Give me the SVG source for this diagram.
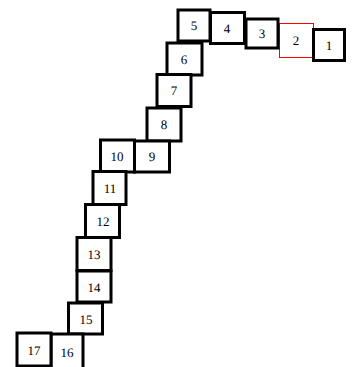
<svg xmlns="http://www.w3.org/2000/svg" width="352" height="367" viewBox="0 0 352 367">
<style>
.b{fill:#fff;stroke:#000;stroke-width:3}
.r{fill:#fff;stroke:#f00;stroke-width:1}
text{font-family:"Liberation Serif","Times New Roman",serif;font-size:13px;text-anchor:middle;dominant-baseline:central;fill:#000;text-rendering:geometricPrecision}
</style>
<rect width="352" height="367" fill="#fff"/>
<g id="connectors"></g>
<g id="n2"><rect class="r" x="279.5" y="23.5" width="34" height="34"/><text x="296" y="40">2</text></g>
<g id="n1"><rect class="b" x="313.5" y="29.5" width="31" height="31"/><text x="329" y="45">1</text></g>
<g id="n3"><rect class="b" x="246" y="19" width="32" height="29"/><text x="262" y="33">3</text></g>
<g id="n4"><rect class="b" x="210.5" y="12.5" width="34" height="31"/><text x="227" y="28">4</text></g>
<g id="n6"><rect class="b" x="167" y="43" width="35" height="32"/><text x="184" y="59">6</text></g>
<g id="n5"><rect class="b" x="178" y="10" width="32" height="31"/><text x="194" y="25">5</text></g>
<g id="n7"><rect class="b" x="157" y="74.5" width="34" height="32"/><text x="174" y="90">7</text></g>
<g id="n8"><rect class="b" x="147" y="108" width="34" height="33"/><text x="164" y="124">8</text></g>
<g id="n10"><rect class="b" x="100.5" y="140" width="34" height="32"/><text x="117" y="156">10</text></g>
<g id="n9"><rect class="b" x="134.5" y="141" width="35" height="31"/><text x="152" y="156">9</text></g>
<g id="n11"><rect class="b" x="93" y="171.5" width="33" height="33"/><text x="110" y="188">11</text></g>
<g id="n12"><rect class="b" x="85.5" y="204.5" width="34" height="33"/><text x="103" y="221">12</text></g>
<g id="n13"><rect class="b" x="77" y="237.5" width="34" height="33"/><text x="94" y="254">13</text></g>
<g id="n14"><rect class="b" x="77" y="271" width="34" height="31"/><text x="94" y="287">14</text></g>
<g id="n15"><rect class="b" x="68.5" y="303" width="34" height="31"/><text x="86" y="319">15</text></g>
<g id="n16"><rect class="b" x="51" y="334" width="32" height="35"/><text x="67" y="352">16</text></g>
<g id="n17"><rect class="b" x="17" y="333" width="34" height="33"/><text x="34" y="350">17</text></g>
</svg>
